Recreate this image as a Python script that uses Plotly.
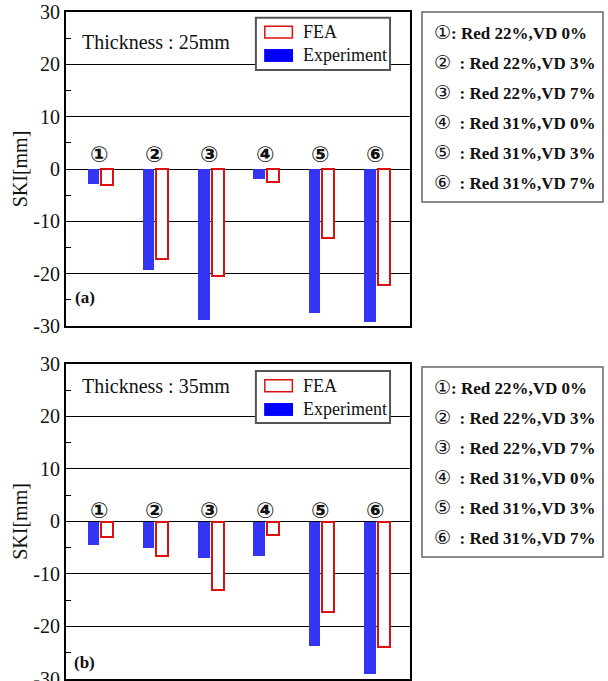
import plotly.graph_objects as go
from plotly.subplots import make_subplots

cases = ["①", "②", "③", "④", "⑤", "⑥"]
case_desc = ["Red 22%,VD 0%", "Red 22%,VD 3%", "Red 22%,VD 7%",
             "Red 31%,VD 0%", "Red 31%,VD 3%", "Red 31%,VD 7%"]
exp_25 = [-2.9, -19.2, -28.8, -1.9, -27.5, -29.2]
fea_25 = [-3.1, -17.2, -20.4, -2.4, -13.2, -22.1]
exp_35 = [-4.4, -5.1, -7.0, -6.6, -23.8, -29.0]
fea_35 = [-3.0, -6.5, -13.0, -2.6, -17.3, -23.9]
thickness = ["25mm", "35mm"]
panel_tags = ["(a)", "(b)"]
y_ticks = [30, 20, 10, 0, -10, -20, -30]
y_tick_text = [str(v) for v in y_ticks]

BLUE = "#3434f4"
RED = "#dd1010"
SERIF = "Liberation Serif"

fig = make_subplots(rows=2, cols=1, vertical_spacing=0.057)
fig.update_layout(
    width=608, height=681,
    margin=dict(l=66, r=198, t=12, b=2, autoexpand=False),
    paper_bgcolor="white", plot_bgcolor="white",
    showlegend=False, bargap=0,
)
fig.update_yaxes(domain=[0.5292, 1.0], row=1, col=1)
fig.update_yaxes(domain=[0.0, 0.4723], row=2, col=1)

xs = list(range(len(cases)))
data = [(exp_25, fea_25), (exp_35, fea_35)]
for r, (ev, fv) in enumerate(data, start=1):
    fig.add_trace(go.Bar(x=xs, y=ev, name="Experiment", width=0.21, offset=-0.21,
                         marker=dict(color=BLUE, line=dict(width=0))), row=r, col=1)
    fig.add_trace(go.Bar(x=xs, y=fv, name="FEA", width=0.215, offset=0.035,
                         marker=dict(color="white", line=dict(color=RED, width=2))), row=r, col=1)

for r in (1, 2):
    fig.update_xaxes(range=[-0.6, 5.62], showticklabels=False, ticks="",
                     showgrid=False, zeroline=False, automargin=False,
                     showline=True, mirror=True, linecolor="black", linewidth=2,
                     row=r, col=1)
    fig.update_yaxes(range=[-30, 30], tickvals=y_ticks, ticktext=y_tick_text,
                     ticks="inside", ticklen=8, ticklabeloverflow="allow",
                     tickcolor="black", tickwidth=1, automargin=False,
                     minor=dict(dtick=5, ticks="inside", ticklen=5, tickcolor="black", showgrid=False),
                     showgrid=True, gridcolor="black", gridwidth=1,
                     zeroline=True, zerolinecolor="black", zerolinewidth=1,
                     showline=True, mirror=True, linecolor="black", linewidth=2,
                     tickfont=dict(family=SERIF, size=20, color="#111"),
                     title=dict(text="SKI[mm]", font=dict(family=SERIF, size=20, color="#111"), standoff=0),
                     row=r, col=1)

panel_cfg = [
    dict(xr="x domain", yr="y domain", xd="x", yd="y", thick_y=0.904, tag_y=0.092, lab_y=2.7,
         box=(0.982, 0.815), fea_y=(0.955, 0.917), exp_y=(0.882, 0.841), fea_t=0.936, exp_t=0.863),
    dict(xr="x2 domain", yr="y2 domain", xd="x2", yd="y2", thick_y=0.930, tag_y=0.051, lab_y=2.1,
         box=(0.978, 0.813), fea_y=(0.950, 0.912), exp_y=(0.876, 0.835), fea_t=0.931, exp_t=0.857),
]
for k, cfg in enumerate(panel_cfg):
    xr, yr = cfg["xr"], cfg["yr"]
    fig.add_annotation(xref=xr, yref=yr, x=0.041, y=cfg["thick_y"], xanchor="left", yanchor="middle",
                       text="Thickness : " + thickness[k], showarrow=False,
                       font=dict(family=SERIF, size=20, color="#111"))
    fig.add_annotation(xref=xr, yref=yr, x=0.055, y=cfg["tag_y"], xanchor="center", yanchor="middle",
                       text="<b>" + panel_tags[k] + "</b>", showarrow=False,
                       font=dict(family=SERIF, size=17, color="#111"))
    for i, c in enumerate(cases):
        fig.add_annotation(xref=cfg["xd"], yref=cfg["yd"], x=xs[i], y=cfg["lab_y"], text="<b>" + c + "</b>",
                           showarrow=False, xanchor="center", yanchor="middle",
                           font=dict(family="DejaVu Sans", size=22, color="#111"))
    fig.add_shape(type="rect", xref=xr, yref=yr, x0=0.552, x1=0.942, y0=cfg["box"][1], y1=cfg["box"][0],
                  line=dict(color="#555", width=2), fillcolor="white", layer="above")
    fig.add_shape(type="rect", xref=xr, yref=yr, x0=0.578, x1=0.658, y0=cfg["fea_y"][1], y1=cfg["fea_y"][0],
                  line=dict(color=RED, width=1.5), fillcolor="white", layer="above")
    fig.add_shape(type="rect", xref=xr, yref=yr, x0=0.576, x1=0.660, y0=cfg["exp_y"][1], y1=cfg["exp_y"][0],
                  line=dict(width=0), fillcolor="#0000ff", layer="above")
    fig.add_annotation(xref=xr, yref=yr, x=0.683, y=cfg["fea_t"], xanchor="left", yanchor="middle",
                       text="FEA", showarrow=False, font=dict(family=SERIF, size=18, color="#111"))
    fig.add_annotation(xref=xr, yref=yr, x=0.683, y=cfg["exp_t"], xanchor="left", yanchor="middle",
                       text="Experiment", showarrow=False, font=dict(family=SERIF, size=18, color="#111"))

plot_h = 667
def py(px):
    return (679 - px) / plot_h
def pxx(px):
    return (px - 66) / 344

for top in (0, 355):
    fig.add_shape(type="rect", xref="paper", yref="paper", x0=pxx(422), x1=pxx(603),
                  y0=py(top + 202), y1=py(top + 12), line=dict(color="#666", width=1.5))
    for i, (c, d) in enumerate(zip(cases, case_desc)):
        sep = ": " if i == 0 else "  : "
        fig.add_annotation(xref="paper", yref="paper", x=pxx(432), y=py(top + 32 + i * 30),
                           xanchor="left", yanchor="middle", showarrow=False,
                           text="<span style='font-family:DejaVu Sans;font-size:19px'>" + c + "</span>"
                                + "<b>" + sep + d + "</b>",
                           font=dict(family=SERIF, size=17, color="#111"))

fig.write_html("out.html", config={"displayModeBar": False},
               post_script="document.body.style.margin='0';document.body.style.overflow='hidden';")
